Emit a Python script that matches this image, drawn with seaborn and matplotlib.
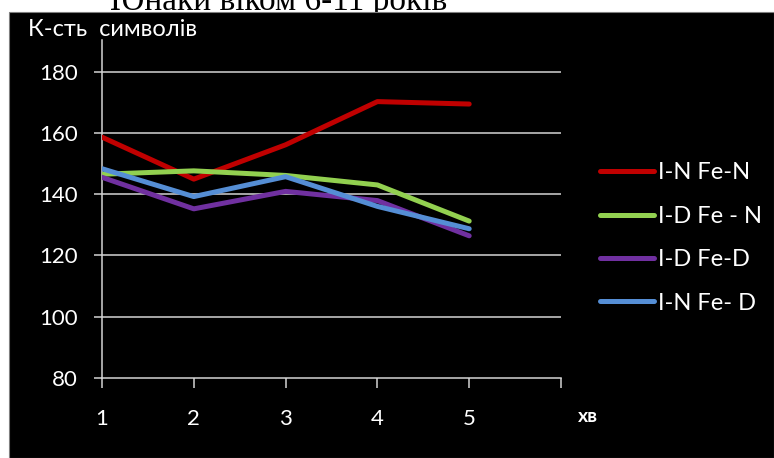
import numpy as np
import pandas as pd
import seaborn as sns
import matplotlib.pyplot as plt
from matplotlib.patches import Rectangle

# Number of characters per minute for four task conditions
minutes = [1, 2, 3, 4, 5]
series_names = ["I-N Fe-N", "I-D Fe - N", "I-D Fe-D", "I-N Fe- D"]
in_fe_n = [158.6, 144.9, 156.1, 170.2, 169.4]
id_fe_n = [146.5, 147.6, 146.1, 143.0, 131.2]
id_fe_d = [145.5, 135.2, 140.9, 137.9, 126.4]
in_fe_d = [148.3, 139.2, 145.7, 136.0, 128.7]
line_colors = ["#C00000", "#92D050", "#7030A0", "#558ED5"]

y_ticks = [80, 100, 120, 140, 160, 180]
x_ticks = [1, 2, 3, 4, 5, 6]
x_tick_labels = ["1", "2", "3", "4", "5", ""]

title_text = "Юнаки віком 6-11 років"
y_title = "К-сть  символів"
x_title = "хв"

df = pd.DataFrame({
    "minute": minutes * 4,
    "value": in_fe_n + id_fe_n + id_fe_d + in_fe_d,
    "series": sum([[n] * len(minutes) for n in series_names], []),
})

sns.set_style("dark")
plt.rcParams["font.family"] = ["Lato", "DejaVu Sans"]

W, H = 774, 458
fig = plt.figure(figsize=(W / 100, H / 100), dpi=100, facecolor="white")

# caption above the dark panel (only its lower part shows)
fig.text(110 / W, 1 - 10 / H, title_text, family=["Liberation Serif", "DejaVu Serif"],
         fontsize=24, color="black", ha="left", va="baseline", zorder=0.5)

# dark panel behind the chart
fig.patches.append(Rectangle((9 / W, 0), 1 - 9 / W, 1 - 12 / H, transform=fig.transFigure,
                             facecolor="black", edgecolor="#7f7f7f", linewidth=0.8, zorder=1))

left, right, bottom, top = 102 / W, 561 / W, 1 - 378 / H, 1 - 40 / H
ax = fig.add_axes([left, bottom, right - left, top - bottom])
ax.set_zorder(2)
ax.patch.set_alpha(0)

grid_c = "#D4D4D4"
ax.set_ylim(80, 190.3)
ax.set_xlim(1, 6)
ax.set_yticks(y_ticks)
ax.set_xticks(x_ticks)
ax.set_xticklabels(x_tick_labels)
for y in y_ticks[1:]:
    ax.axhline(y, xmin=0, xmax=1, color=grid_c, linewidth=1.1, zorder=1)

sns.lineplot(data=df, x="minute", y="value", hue="series", hue_order=series_names,
             palette=line_colors, linewidth=3.6, ax=ax, legend=True, zorder=3)

for s in ["top", "right"]:
    ax.spines[s].set_visible(False)
for s in ["left", "bottom"]:
    ax.spines[s].set_visible(True)
    ax.spines[s].set_color(grid_c)
    ax.spines[s].set_linewidth(1.1)
ax.grid(False)

ax.tick_params(axis="y", direction="out", length=5.5, width=1.1, color=grid_c,
               pad=12, labelsize=16, labelcolor="white", left=True)
ax.tick_params(axis="x", direction="out", length=7, width=1.1, color=grid_c,
               pad=15, labelsize=16, labelcolor="white", bottom=True)
ax.set_xlabel("")
ax.set_ylabel("")

handles, labels = ax.get_legend_handles_labels()
ax.get_legend().remove()
leg = fig.legend(handles, labels, loc="center left", bbox_to_anchor=(600 / W, 1 - 238 / H),
                 frameon=False, fontsize=17, handlelength=2.3, handletextpad=0.15,
                 labelspacing=0.95, borderpad=0, borderaxespad=0)
for t in leg.get_texts():
    t.set_color("white")
for h in leg.get_lines():
    h.set_linewidth(3.6)

fig.text(28 / W, 1 - 30 / H, y_title, color="white", fontsize=17, ha="left", va="center")
fig.text(588 / W, 1 - 417 / H, x_title, color="white", fontsize=14, fontweight="bold",
         ha="center", va="center")

fig.savefig("out.png", dpi=100, facecolor="white")
